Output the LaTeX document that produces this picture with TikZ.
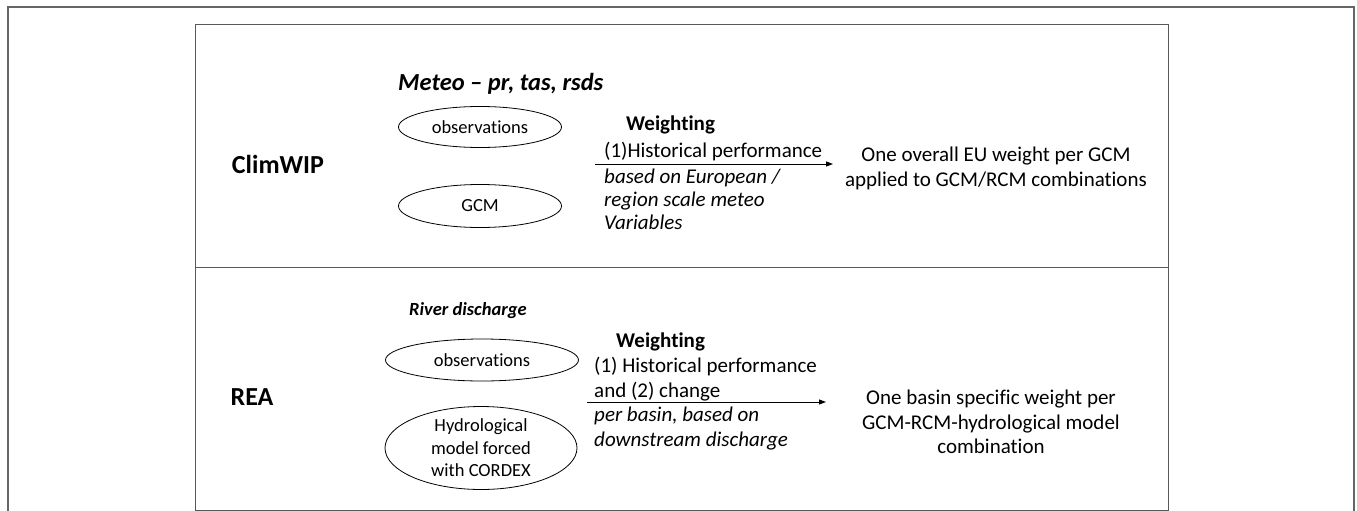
\documentclass[tikz,border=0pt]{standalone}
\usepackage{fontspec}
\setmainfont{Carlito}[Ligatures=NoCommon]
\usetikzlibrary{shapes.geometric,arrows.meta}
\begin{document}
\begin{tikzpicture}[x=1pt,y=-1pt,
  frame/.style={draw=black!60,line width=1.6pt},
  panel/.style={draw=black!65,line width=1pt},
  oval/.style={draw,ellipse,line width=0.8pt,inner sep=0pt,font=\fontsize{18.5}{22.5}\selectfont,align=center},
  body/.style={inner sep=0pt,font=\fontsize{21}{25}\selectfont},
  bodyit/.style={inner sep=0pt,font=\fontsize{21}{25}\selectfont\itshape},
  head/.style={inner sep=0pt,font=\fontsize{21}{25}\selectfont\bfseries},
  title/.style={inner sep=0pt,font=\fontsize{26}{30}\selectfont\bfseries},
  flow/.style={-{Triangle[length=7pt,width=5pt]},line width=1pt}]
\useasboundingbox (0,0) rectangle (1357,511);
\fill[white] (0,0) rectangle (1357,511);
% frames
\draw[frame] (8,515) -- (8,7) -- (1354,7) -- (1354,515);
\draw[panel] (195,25) rectangle (1168,510);
\draw[panel] (195,267) -- (1168,267);
% ClimWIP panel
\node[title,anchor=base] (climwip) at (278,173) {ClimWIP};
\node[inner sep=0pt,font=\fontsize{24.5}{28}\selectfont\bfseries\itshape,anchor=base west] (meteo) at (398,91) {Meteo – pr, tas, rsds};
\node[oval,minimum width=163pt,minimum height=41pt] (obs1) at (480,127) {observations};
\node[oval,minimum width=163pt,minimum height=43pt] (gcm) at (480,206) {GCM};
\node[head,anchor=base west] (w1) at (626,130) {Weighting};
\node[body,anchor=base west] (h1) at (604,157) {(1)Historical performance};
\node[bodyit,anchor=base west] (b1) at (604,183) {based on European /};
\node[bodyit,anchor=base west] (b2) at (604,206) {region scale meteo};
\node[bodyit,anchor=base west] (b3) at (604,229) {Variables};
\coordinate (a1s) at (595,164);
\coordinate (a1e) at (833,164);
\draw[flow] (a1s) -- (a1e);
\node[body,anchor=base] (r1a) at (996,161) {One overall EU weight per GCM};
\node[body,anchor=base] (r1b) at (996,186) {applied to GCM/RCM combinations};
% REA panel
\node[title,anchor=base] (rea) at (252,405) {REA};
\node[inner sep=0pt,font=\fontsize{18.5}{22}\selectfont\bfseries\itshape,anchor=base west] (river) at (409,315) {River discharge};
\node[oval,minimum width=193pt,minimum height=42pt] (obs2) at (482,360) {observations};
\node[oval,minimum width=192pt,minimum height=83pt] (hydro) at (481,448) {Hydrological\\model forced\\with CORDEX};
\node[head,anchor=base west] (w2) at (616,347) {Weighting};
\node[body,anchor=base west] (h2) at (594,372) {(1) Historical performance};
\node[body,anchor=base west] (h3) at (594,397) {and (2) change};
\node[bodyit,anchor=base west] (p1) at (594,421) {per basin, based on};
\node[bodyit,anchor=base west] (p2) at (594,446) {downstream discharge};
\coordinate (a2s) at (587,402);
\coordinate (a2e) at (826,402);
\draw[flow] (a2s) -- (a2e);
\node[body,anchor=base] (r2a) at (991,404) {One basin specific weight per};
\node[body,anchor=base] (r2b) at (991,429) {GCM-RCM-hydrological model};
\node[body,anchor=base] (r2c) at (991,453) {combination};
\end{tikzpicture}
\end{document}
